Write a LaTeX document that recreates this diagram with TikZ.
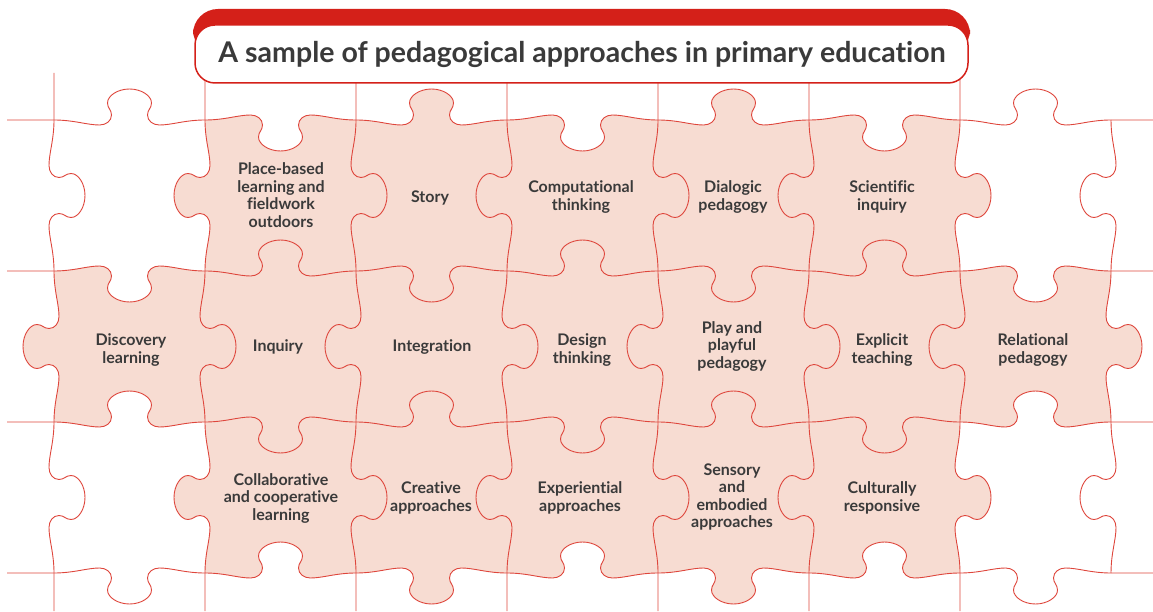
\documentclass[tikz,border=0pt]{standalone}
\usepackage{fontspec}
\setmainfont{Lato}[Ligatures=CommonOff]
\definecolor{tilepink}{RGB}{247,220,210}
\definecolor{cutred}{RGB}{222,70,60}
\definecolor{titlered}{RGB}{212,32,25}
\definecolor{inkgray}{RGB}{58,58,58}
% one puzzle edge of length 151, knob towards +y
\newcommand{\knob}{.. controls (20,0) and (33,-5) .. (45.5,-5) .. controls (52,-5) and (57.5,-1) .. (57.5,5) .. controls (57.5,10) and (53.5,12) .. (53.5,17) .. controls (53.5,24.5) and (64,31) .. (75.5,31) .. controls (87,31) and (97.5,24.5) .. (97.5,17) .. controls (97.5,12) and (93.5,10) .. (93.5,5) .. controls (93.5,-1) and (99,-5) .. (105.5,-5) .. controls (118,-5) and (131,0) .. (151,0)}
\newcommand{\cutedge}[4]{{[shift={(#1,#2)},rotate=#3,yscale=#4]\knob}}
\begin{document}
\begin{tikzpicture}[x=1pt,y=1pt,
    tile/.style={fill=tilepink},
    cut/.style={draw=cutred,line width=0.9pt},
    label/.style={font=\bfseries\fontsize{16}{17.5}\selectfont,text=inkgray,align=center,inner sep=0pt}]
    \useasboundingbox (0,0) rectangle (1153,611);
    % pieces
    \fill[tile] (205,491) \cutedge{205}{491}{0}{-1} \cutedge{356}{491}{-90}{1} \cutedge{356}{340}{180}{-1} \cutedge{205}{340}{90}{1} -- cycle;
    \fill[tile] (356,491) \cutedge{356}{491}{0}{1} \cutedge{507}{491}{-90}{-1} \cutedge{507}{340}{180}{1} \cutedge{356}{340}{90}{-1} -- cycle;
    \fill[tile] (507,491) \cutedge{507}{491}{0}{-1} \cutedge{658}{491}{-90}{1} \cutedge{658}{340}{180}{-1} \cutedge{507}{340}{90}{1} -- cycle;
    \fill[tile] (658,491) \cutedge{658}{491}{0}{1} \cutedge{809}{491}{-90}{-1} \cutedge{809}{340}{180}{1} \cutedge{658}{340}{90}{-1} -- cycle;
    \fill[tile] (809,491) \cutedge{809}{491}{0}{-1} \cutedge{960}{491}{-90}{1} \cutedge{960}{340}{180}{-1} \cutedge{809}{340}{90}{1} -- cycle;
    \fill[tile] (54,340) \cutedge{54}{340}{0}{-1} \cutedge{205}{340}{-90}{1} \cutedge{205}{189}{180}{-1} \cutedge{54}{189}{90}{1} -- cycle;
    \fill[tile] (205,340) \cutedge{205}{340}{0}{1} \cutedge{356}{340}{-90}{-1} \cutedge{356}{189}{180}{1} \cutedge{205}{189}{90}{-1} -- cycle;
    \fill[tile] (356,340) \cutedge{356}{340}{0}{-1} \cutedge{507}{340}{-90}{1} \cutedge{507}{189}{180}{-1} \cutedge{356}{189}{90}{1} -- cycle;
    \fill[tile] (507,340) \cutedge{507}{340}{0}{1} \cutedge{658}{340}{-90}{-1} \cutedge{658}{189}{180}{1} \cutedge{507}{189}{90}{-1} -- cycle;
    \fill[tile] (658,340) \cutedge{658}{340}{0}{-1} \cutedge{809}{340}{-90}{1} \cutedge{809}{189}{180}{-1} \cutedge{658}{189}{90}{1} -- cycle;
    \fill[tile] (809,340) \cutedge{809}{340}{0}{1} \cutedge{960}{340}{-90}{-1} \cutedge{960}{189}{180}{1} \cutedge{809}{189}{90}{-1} -- cycle;
    \fill[tile] (960,340) \cutedge{960}{340}{0}{-1} \cutedge{1111}{340}{-90}{1} \cutedge{1111}{189}{180}{-1} \cutedge{960}{189}{90}{1} -- cycle;
    \fill[tile] (205,189) \cutedge{205}{189}{0}{-1} \cutedge{356}{189}{-90}{1} \cutedge{356}{38}{180}{-1} \cutedge{205}{38}{90}{1} -- cycle;
    \fill[tile] (356,189) \cutedge{356}{189}{0}{1} \cutedge{507}{189}{-90}{-1} \cutedge{507}{38}{180}{1} \cutedge{356}{38}{90}{-1} -- cycle;
    \fill[tile] (507,189) \cutedge{507}{189}{0}{-1} \cutedge{658}{189}{-90}{1} \cutedge{658}{38}{180}{-1} \cutedge{507}{38}{90}{1} -- cycle;
    \fill[tile] (658,189) \cutedge{658}{189}{0}{1} \cutedge{809}{189}{-90}{-1} \cutedge{809}{38}{180}{1} \cutedge{658}{38}{90}{-1} -- cycle;
    \fill[tile] (809,189) \cutedge{809}{189}{0}{-1} \cutedge{960}{189}{-90}{1} \cutedge{960}{38}{180}{-1} \cutedge{809}{38}{90}{1} -- cycle;
    % cuts
    \draw[cut] (7,491) -- (54,491) \cutedge{54}{491}{0}{1} \cutedge{205}{491}{0}{-1} \cutedge{356}{491}{0}{1} \cutedge{507}{491}{0}{-1} \cutedge{658}{491}{0}{1} \cutedge{809}{491}{0}{-1} \cutedge{960}{491}{0}{1} -- (1153,491);
    \draw[cut] (7,340) -- (54,340) \cutedge{54}{340}{0}{-1} \cutedge{205}{340}{0}{1} \cutedge{356}{340}{0}{-1} \cutedge{507}{340}{0}{1} \cutedge{658}{340}{0}{-1} \cutedge{809}{340}{0}{1} \cutedge{960}{340}{0}{-1} -- (1153,340);
    \draw[cut] (7,189) -- (54,189) \cutedge{54}{189}{0}{1} \cutedge{205}{189}{0}{-1} \cutedge{356}{189}{0}{1} \cutedge{507}{189}{0}{-1} \cutedge{658}{189}{0}{1} \cutedge{809}{189}{0}{-1} \cutedge{960}{189}{0}{1} -- (1153,189);
    \draw[cut] (7,38) -- (54,38) \cutedge{54}{38}{0}{-1} \cutedge{205}{38}{0}{1} \cutedge{356}{38}{0}{-1} \cutedge{507}{38}{0}{1} \cutedge{658}{38}{0}{-1} \cutedge{809}{38}{0}{1} \cutedge{960}{38}{0}{-1} -- (1153,38);
    \draw[cut] (54,538) -- (54,491) \cutedge{54}{491}{-90}{1} \cutedge{54}{340}{-90}{-1} \cutedge{54}{189}{-90}{1} -- (54,0);
    \draw[cut] (205,538) -- (205,491) \cutedge{205}{491}{-90}{-1} \cutedge{205}{340}{-90}{1} \cutedge{205}{189}{-90}{-1} -- (205,0);
    \draw[cut] (356,538) -- (356,491) \cutedge{356}{491}{-90}{1} \cutedge{356}{340}{-90}{-1} \cutedge{356}{189}{-90}{1} -- (356,0);
    \draw[cut] (507,538) -- (507,491) \cutedge{507}{491}{-90}{-1} \cutedge{507}{340}{-90}{1} \cutedge{507}{189}{-90}{-1} -- (507,0);
    \draw[cut] (658,538) -- (658,491) \cutedge{658}{491}{-90}{1} \cutedge{658}{340}{-90}{-1} \cutedge{658}{189}{-90}{1} -- (658,0);
    \draw[cut] (809,538) -- (809,491) \cutedge{809}{491}{-90}{-1} \cutedge{809}{340}{-90}{1} \cutedge{809}{189}{-90}{-1} -- (809,0);
    \draw[cut] (960,538) -- (960,491) \cutedge{960}{491}{-90}{1} \cutedge{960}{340}{-90}{-1} \cutedge{960}{189}{-90}{1} -- (960,0);
    \draw[cut] (1111,491) \cutedge{1111}{491}{-90}{-1} \cutedge{1111}{340}{-90}{1} \cutedge{1111}{189}{-90}{-1};
    % labels
    \node[label] (placebased) at (281,416) {Place-based\\learning and\\fieldwork\\outdoors};
    \node[label] (story) at (430,413) {Story};
    \node[label] (computational) at (581,414) {Computational\\thinking};
    \node[label] (dialogic) at (733,414) {Dialogic\\pedagogy};
    \node[label] (scientific) at (882,414) {Scientific\\inquiry};
    \node[label] (discovery) at (131,261) {Discovery\\learning};
    \node[label] (inquiry) at (278,264) {Inquiry};
    \node[label] (integration) at (432,264) {Integration};
    \node[label] (design) at (582,261) {Design\\thinking};
    \node[label] (play) at (732,265) {Play and\\playful\\pedagogy};
    \node[label] (explicit) at (882,261) {Explicit\\teaching};
    \node[label] (relational) at (1033,261) {Relational\\pedagogy};
    \node[label] (collaborative) at (281,113) {Collaborative\\and cooperative\\learning};
    \node[label] (creative) at (431,113) {Creative\\approaches};
    \node[label] (experiential) at (580,113) {Experiential\\approaches};
    \node[label] (sensory) at (732,114) {Sensory\\and\\embodied\\approaches};
    \node[label] (culturally) at (882,113) {Culturally\\responsive};
    % title
    \fill[titlered, rounded corners=25] (193,602) rectangle (970,556);
    \draw[titlered, line width=1.5pt, fill=white, rounded corners=20] (195,586) rectangle (968,528);
    \node[font=\bfseries\fontsize{28.5}{34}\selectfont, text=inkgray, anchor=base] (title) at (582,548) {A sample of pedagogical approaches in primary education};
\end{tikzpicture}
\end{document}
